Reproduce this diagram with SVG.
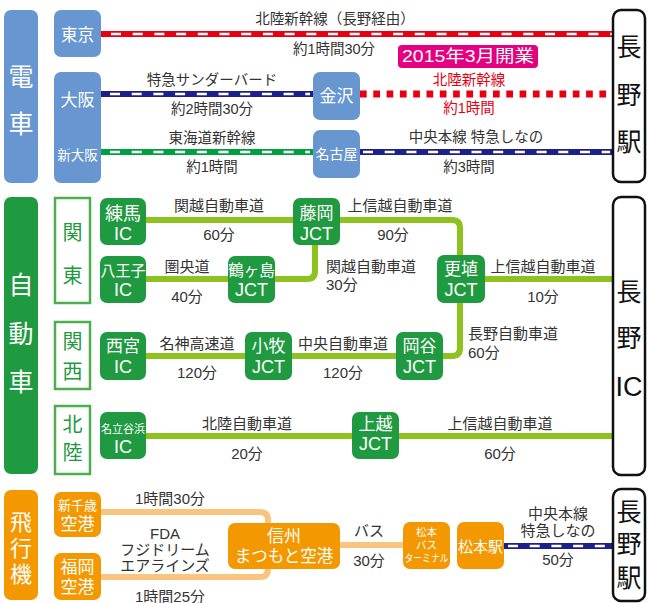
<svg xmlns="http://www.w3.org/2000/svg" width="649" height="603" viewBox="0 0 649 603">
<style>
text{font-family:"Liberation Sans","Noto Sans CJK JP",sans-serif;dominant-baseline:central;text-anchor:middle}
.lb{font-size:14.5px;fill:#333}
.lm{font-size:15px;fill:#333}
.la{text-anchor:start}
.w{fill:#fff}
.bk{fill:#111}
.blue{fill:#6796d0}
.grn{fill:#1f9a40}
.org{fill:#f39800}
.cat{font-size:25px;fill:#fff}
.nag{fill:#fff;stroke:#111;stroke-width:2.5}
.gb{fill:#fff;stroke:#4cae4c;stroke-width:2.5}
.gt{font-size:20px;fill:#1f9a40}
.gl{fill:none;stroke:#8dc21f;stroke-width:6}
.ol{fill:none;stroke:#f9c47d;stroke-width:6}
.wd{stroke:#fff;stroke-width:2.6;stroke-dasharray:10 11.7;fill:none}
.n1{font-size:17px;fill:#fff}
.n2{font-size:18px;fill:#fff}
</style>
<g id="connectors">
  <line x1="101" y1="34" x2="614" y2="34" stroke="#e60012" stroke-width="6"/>
  <line x1="111" y1="34" x2="612" y2="34" class="wd"/>
  <line x1="101" y1="94" x2="313" y2="94" stroke="#1d2088" stroke-width="6"/>
  <line x1="110" y1="94" x2="310" y2="94" class="wd"/>
  <line x1="360" y1="94" x2="613" y2="94" stroke="#e60012" stroke-width="7" stroke-dasharray="6.7 6.6"/>
  <line x1="101" y1="152" x2="313" y2="152" stroke="#00a040" stroke-width="6"/>
  <line x1="110" y1="152" x2="310" y2="152" class="wd"/>
  <line x1="360" y1="152" x2="614" y2="152" stroke="#1d2088" stroke-width="6"/>
  <line x1="363" y1="152" x2="610" y2="152" class="wd"/>
  <path class="gl" d="M146,220 H293"/>
  <path class="gl" d="M340,220 H452 Q460,220 460,228 V348 Q460,356 452,356 H443"/>
  <path class="gl" d="M146,279 H307 Q315,279 315,271 V245"/>
  <path class="gl" d="M485,279 H613"/>
  <path class="gl" d="M146,356 H396"/>
  <path class="gl" d="M146,436 H613"/>
  <path class="ol" d="M101,512 H260 Q268,512 268,520 V569 Q268,577 260,577 H101"/>
  <path class="ol" d="M340,545 H403"/>
  <line x1="504" y1="546" x2="614" y2="546" stroke="#1d2088" stroke-width="6"/>
  <line x1="508" y1="546" x2="610" y2="546" class="wd"/>
</g>
<g id="labels">
  <text class="lb" x="335" y="19">北陸新幹線（長野経由）</text>
  <text class="lb" x="334" y="49">約1時間30分</text>
  <text class="lb" x="212" y="80">特急サンダーバード</text>
  <text class="lb" x="212" y="109">約2時間30分</text>
  <text class="lb" x="212" y="138">東海道新幹線</text>
  <text class="lb" x="212" y="167">約1時間</text>
  <text class="lb" x="469" y="80" style="fill:#e60012">北陸新幹線</text>
  <text class="lb" x="469" y="108" style="fill:#e60012">約1時間</text>
  <text class="lb" x="476" y="137">中央本線 特急しなの</text>
  <text class="lb" x="469" y="167">約3時間</text>
  <text class="lm" x="219" y="205">関越自動車道</text>
  <text class="lm" x="219" y="234">60分</text>
  <text class="lm" x="400" y="205">上信越自動車道</text>
  <text class="lm" x="393" y="234">90分</text>
  <text class="lm" x="187" y="266">圏央道</text>
  <text class="lm" x="187" y="296">40分</text>
  <text class="lm la" x="326" y="266">関越自動車道</text>
  <text class="lm la" x="326" y="284">30分</text>
  <text class="lm" x="543" y="266">上信越自動車道</text>
  <text class="lm" x="543" y="296">10分</text>
  <text class="lm la" x="468" y="333">長野自動車道</text>
  <text class="lm la" x="468" y="352">60分</text>
  <text class="lm" x="197" y="343">名神高速道</text>
  <text class="lm" x="197" y="372">120分</text>
  <text class="lm" x="343" y="343">中央自動車道</text>
  <text class="lm" x="343" y="372">120分</text>
  <text class="lm" x="247" y="423">北陸自動車道</text>
  <text class="lm" x="247" y="453">20分</text>
  <text class="lm" x="500" y="423">上信越自動車道</text>
  <text class="lm" x="500" y="453">60分</text>
  <text class="lm" x="170" y="498">1時間30分</text>
  <text class="lm" x="165" y="533">FDA</text>
  <text class="lm" x="165" y="549">フジドリーム</text>
  <text class="lm" x="165" y="565">エアラインズ</text>
  <text class="lm" x="170" y="596">1時間25分</text>
  <text class="lm" x="369" y="530">バス</text>
  <text class="lm" x="369" y="560">30分</text>
  <text class="lm" x="558" y="513">中央本線</text>
  <text class="lm" x="558" y="530">特急しなの</text>
  <text class="lm" x="558" y="559">50分</text>
</g>
<g id="open2015">
  <rect x="398" y="45" width="140" height="23" rx="4" fill="#e4007f"/>
  <text x="468" y="56.5" class="w" style="font-size:17px" textLength="132" lengthAdjust="spacingAndGlyphs">2015年3月開業</text>
</g>
<g id="cat-train"><rect x="4" y="10" width="34" height="173" rx="7" class="blue"/><text class="cat" x="21" y="77">電</text><text class="cat" x="21" y="124">車</text></g>
<g id="cat-car"><rect x="4" y="197" width="34" height="277" rx="7" class="grn"/><text class="cat" x="21" y="285">自</text><text class="cat" x="21" y="334">動</text><text class="cat" x="21" y="382">車</text></g>
<g id="cat-air"><rect x="4" y="490" width="34" height="110" rx="7" class="org"/><text class="cat" x="21" y="522" style="font-size:22px">飛</text><text class="cat" x="21" y="548" style="font-size:22px">行</text><text class="cat" x="21" y="574" style="font-size:22px">機</text></g>
<g id="tokyo"><rect x="54" y="10" width="47" height="47" rx="7" class="blue"/><text class="w" x="77.5" y="35" style="font-size:16.5px">東京</text></g>
<g id="osaka"><rect x="54" y="72" width="47" height="111" rx="7" class="blue"/><text class="w" x="77.5" y="100" style="font-size:17px">大阪</text><text class="w" x="77.5" y="155" style="font-size:13.5px">新大阪</text></g>
<g id="kanazawa"><rect x="313" y="72" width="47" height="48" rx="7" class="blue"/><text class="w" x="336.5" y="96" style="font-size:17px">金沢</text></g>
<g id="nagoya"><rect x="313" y="130" width="47" height="48" rx="7" class="blue"/><text class="w" x="336.5" y="154" style="font-size:14px">名古屋</text></g>
<g id="nagano-sta"><rect x="613" y="10" width="32" height="172" rx="8" class="nag"/><text class="bk" x="629" y="47" style="font-size:25px">長</text><text class="bk" x="629" y="95" style="font-size:25px">野</text><text class="bk" x="629" y="142" style="font-size:25px">駅</text></g>
<g id="kanto"><rect x="55" y="198" width="35" height="105" class="gb"/><text class="gt" x="72.5" y="233">関</text><text class="gt" x="72.5" y="276">東</text></g>
<g id="kansai"><rect x="55" y="322" width="35" height="67" class="gb"/><text class="gt" x="72.5" y="342">関</text><text class="gt" x="72.5" y="372">西</text></g>
<g id="hokuriku"><rect x="55" y="406" width="35" height="68" class="gb"/><text class="gt" x="72.5" y="425">北</text><text class="gt" x="72.5" y="453">陸</text></g>
<g id="nerima"><rect x="100" y="198" width="46" height="47" rx="7" class="grn"/><text class="n1" x="123" y="213.5" style="font-size:18px">練馬</text><text class="n2" x="123" y="234">IC</text></g>
<g id="hachioji"><rect x="100" y="256" width="46" height="47" rx="7" class="grn"/><text class="n1" x="123" y="270" style="font-size:15px">八王子</text><text class="n2" x="123" y="290">IC</text></g>
<g id="tsurugashima"><rect x="228" y="256" width="47" height="47" rx="7" class="grn"/><text class="n1" x="251.5" y="270" style="font-size:15.5px">鶴ヶ島</text><text class="n2" x="251.5" y="290">JCT</text></g>
<g id="fujioka"><rect x="293" y="198" width="47" height="47" rx="7" class="grn"/><text class="n1" x="316.5" y="213.5">藤岡</text><text class="n2" x="316.5" y="234">JCT</text></g>
<g id="koshoku"><rect x="437" y="255" width="48" height="48" rx="7" class="grn"/><text class="n1" x="461" y="269.5">更埴</text><text class="n2" x="461" y="290">JCT</text></g>
<g id="nishinomiya"><rect x="100" y="332" width="46" height="48" rx="7" class="grn"/><text class="n1" x="123" y="346">西宮</text><text class="n2" x="123" y="366.5">IC</text></g>
<g id="komaki"><rect x="245" y="332" width="47" height="48" rx="7" class="grn"/><text class="n1" x="268.5" y="346">小牧</text><text class="n2" x="268.5" y="366.5">JCT</text></g>
<g id="okaya"><rect x="396" y="332" width="47" height="48" rx="7" class="grn"/><text class="n1" x="419.5" y="346">岡谷</text><text class="n2" x="419.5" y="366.5">JCT</text></g>
<g id="nadachi"><rect x="100" y="412" width="46" height="47" rx="7" class="grn"/><text class="w" x="123" y="429" style="font-size:11px">名立谷浜</text><text class="n2" x="123" y="447">IC</text></g>
<g id="joetsu"><rect x="352" y="412" width="47" height="47" rx="7" class="grn"/><text class="n1" x="375.5" y="424">上越</text><text class="n2" x="375.5" y="444">JCT</text></g>
<g id="nagano-ic"><rect x="613" y="197" width="32" height="278" rx="8" class="nag"/><text class="bk" x="629" y="292" style="font-size:25px">長</text><text class="bk" x="629" y="338" style="font-size:25px">野</text><text class="bk" x="629" y="387" style="font-size:27px">IC</text></g>
<g id="shinchitose"><rect x="54" y="492" width="47" height="45" rx="7" class="org"/><text class="w" x="77.5" y="505" style="font-size:13px">新千歳</text><text class="w" x="77.5" y="524.5" style="font-size:17px">空港</text></g>
<g id="fukuoka"><rect x="54" y="553" width="47" height="47" rx="7" class="org"/><text class="w" x="77.5" y="567" style="font-size:17px">福岡</text><text class="w" x="77.5" y="587" style="font-size:17px">空港</text></g>
<g id="matsumoto-airport"><rect x="228" y="523" width="112" height="46" rx="7" class="org"/><text class="w" x="284" y="536.5" style="font-size:17px">信州</text><text class="w" x="284" y="556" style="font-size:16.5px">まつもと空港</text></g>
<g id="bus-terminal"><rect x="403" y="522" width="47" height="47" rx="7" class="org"/><text class="w" x="426.5" y="532" style="font-size:10.5px">松本</text><text class="w" x="426.5" y="545" style="font-size:10.5px">バス</text><text class="w" x="426.5" y="558" style="font-size:10.5px" textLength="44" lengthAdjust="spacingAndGlyphs">ターミナル</text></g>
<g id="matsumoto-sta"><rect x="457" y="522" width="47" height="47" rx="7" class="org"/><text class="w" x="480.5" y="546" style="font-size:15px">松本駅</text></g>
<g id="nagano-sta2"><rect x="613" y="489" width="32" height="112" rx="8" class="nag"/><text class="bk" x="629" y="512" style="font-size:25px">長</text><text class="bk" x="629" y="544" style="font-size:25px">野</text><text class="bk" x="629" y="578" style="font-size:25px">駅</text></g>
</svg>
